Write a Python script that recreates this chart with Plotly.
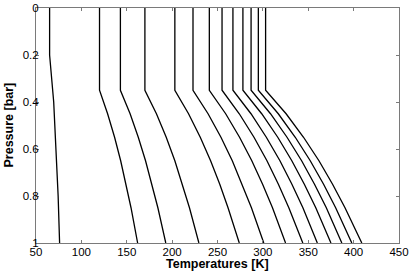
import plotly.graph_objects as go

# Line 1 (bends at 0.2 bar)
p_first = [0.0, 0.2, 0.4, 0.6, 0.8, 1.0]
t_first = [65, 65, 69.5, 72.2, 74.4, 76]

# Other lines (bend at 0.35 bar)
p_levels = [0.0, 0.35, 0.45, 0.55, 0.65, 0.75, 0.85, 1.0]
t_lines = [
    [120, 120, 128.9, 136.6, 143.3, 149.2, 154.7, 162],
    [143, 143, 153.7, 162.7, 170.7, 177.8, 184.3, 193],
    [170, 170, 182.7, 193.5, 203.0, 211.4, 219.1, 229.5],
    [203, 203, 218.1, 231.0, 242.4, 252.5, 261.6, 274],
    [223, 223, 239.6, 253.8, 266.3, 277.3, 287.4, 301],
    [241, 241, 259.0, 274.3, 287.8, 299.7, 310.6, 325],
    [255, 255, 274.0, 290.2, 304.5, 317.1, 328.6, 344],
    [267, 267, 286.9, 303.8, 318.8, 332.0, 344.1, 360],
    [278, 278, 298.7, 316.4, 331.9, 345.7, 358.3, 375],
    [287, 287, 308.4, 326.6, 342.7, 356.9, 369.9, 387],
    [295, 295, 317.0, 335.7, 352.2, 366.9, 380.2, 398],
    [303, 303, 325.6, 344.8, 361.8, 376.8, 390.5, 409],
]

x_ticks = [50, 100, 150, 200, 250, 300, 350, 400, 450]
y_ticks = [0, 0.2, 0.4, 0.6, 0.8, 1]
y_tick_text = ["0", "0.2", "0.4", "0.6", "0.8", "1"]
x_title = "Temperatures [K]"
y_title = "Pressure [bar]"

FONT = "Liberation Sans, Arial, sans-serif"

fig = go.Figure()
line_style = dict(color="black", width=1.3)
fig.add_trace(go.Scatter(x=t_first, y=p_first, mode="lines", line=line_style, showlegend=False))
for t in t_lines:
    fig.add_trace(go.Scatter(x=t, y=p_levels, mode="lines", line=line_style, showlegend=False))

axis_common = dict(
    showline=True, linecolor="#7a7a7a", linewidth=1, mirror="ticks",
    ticks="inside", ticklen=3, tickcolor="#7a7a7a", showgrid=False, zeroline=False,
    automargin=False,
    tickfont=dict(family=FONT, size=11.5, color="black"),
)
fig.update_xaxes(range=[50, 450], tickvals=x_ticks, ticktext=[str(v) for v in x_ticks],
                 ticklabelstandoff=-2, **axis_common)
fig.update_yaxes(range=[1, 0], tickvals=y_ticks, ticktext=y_tick_text,
                 ticklabelstandoff=-6, **axis_common)

title_font = dict(family=FONT, size=12.5, color="black")
fig.add_annotation(text="<b>" + x_title + "</b>", xref="paper", yref="paper",
                   x=0.5, y=0, xanchor="center", yanchor="top", yshift=-12,
                   showarrow=False, font=title_font)
fig.add_annotation(text="<b>" + y_title + "</b>", xref="paper", yref="paper",
                   x=0, y=0.5, xanchor="center", yanchor="middle", xshift=-28,
                   textangle=-90, showarrow=False, font=title_font)

fig.update_layout(
    width=411, height=271,
    margin=dict(l=36, r=12, t=8, b=28),
    plot_bgcolor="white", paper_bgcolor="white",
)
fig.write_html("out.html", config={"displayModeBar": False},
               post_script="document.body.style.margin='0';")
